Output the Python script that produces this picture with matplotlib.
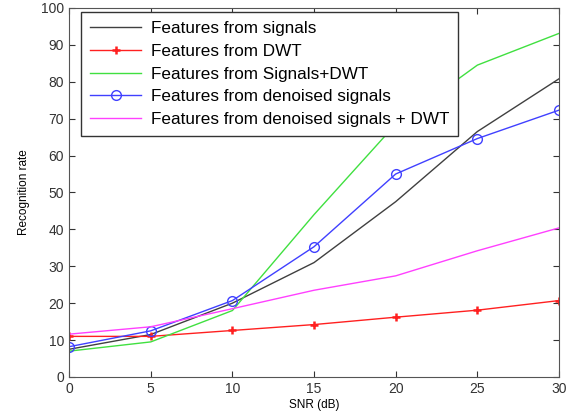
import matplotlib
matplotlib.use("Agg")
import matplotlib.pyplot as plt

snr = [0, 5, 10, 15, 20, 25, 30]
signals = [7.5, 11.5, 20, 31, 47.5, 66.5, 80.8]
dwt = [11, 11, 12.6, 14.2, 16.2, 18.1, 20.7]
signals_dwt = [7, 9.5, 18, 44, 68.5, 84.5, 93.1]
denoised = [8.2, 12.5, 20.7, 35.3, 55, 64.6, 72.3]
denoised_dwt = [11.6, 13.6, 18.5, 23.5, 27.4, 34.2, 40.4]
labels = ["Features from signals", "Features from DWT", "Features from Signals+DWT",
          "Features from denoised signals", "Features from denoised signals + DWT"]
xticks = [0, 5, 10, 15, 20, 25, 30]
yticks = list(range(0, 101, 10))

plt.rcParams['font.family'] = ['Liberation Sans', 'DejaVu Sans']
fig = plt.figure(figsize=(5.71, 4.17), dpi=100)
ax = fig.add_axes([0.121, 0.096, 0.858, 0.885])

ax.plot(snr, signals, color='#404040', lw=1, label=labels[0])
ax.plot(snr, dwt, color='#ff2020', lw=1, marker='+', ms=6, mew=1.8, label=labels[1])
ax.plot(snr, signals_dwt, color='#40e040', lw=1, label=labels[2])
ax.plot(snr, denoised, color='#4040ff', lw=1, marker='o', ms=7, mfc='none', mew=1, label=labels[3])
ax.plot(snr, denoised_dwt, color='#ff40ff', lw=1, label=labels[4])

ax.set_xlim(0, 30)
ax.set_ylim(0, 100)
ax.set_xticks(xticks)
ax.set_yticks(yticks)
ax.tick_params(direction='in', top=True, right=True, labelsize=10, colors='#333333', length=4)
for s in ax.spines.values():
    s.set_color('#555555')
ax.set_xlabel('SNR (dB)', fontsize=8.5, labelpad=2)
ax.set_ylabel('Recognition rate', fontsize=8.5, labelpad=8)

leg = ax.legend(loc='upper left', bbox_to_anchor=(0.013, 1.003), fontsize=12.3, handlelength=3.0,
                fancybox=False, edgecolor='#333333', framealpha=1, borderpad=0.55,
                labelspacing=0.45, handletextpad=0.55, borderaxespad=0.3)
leg.get_frame().set_linewidth(1)

fig.savefig('out.png', dpi=100)
